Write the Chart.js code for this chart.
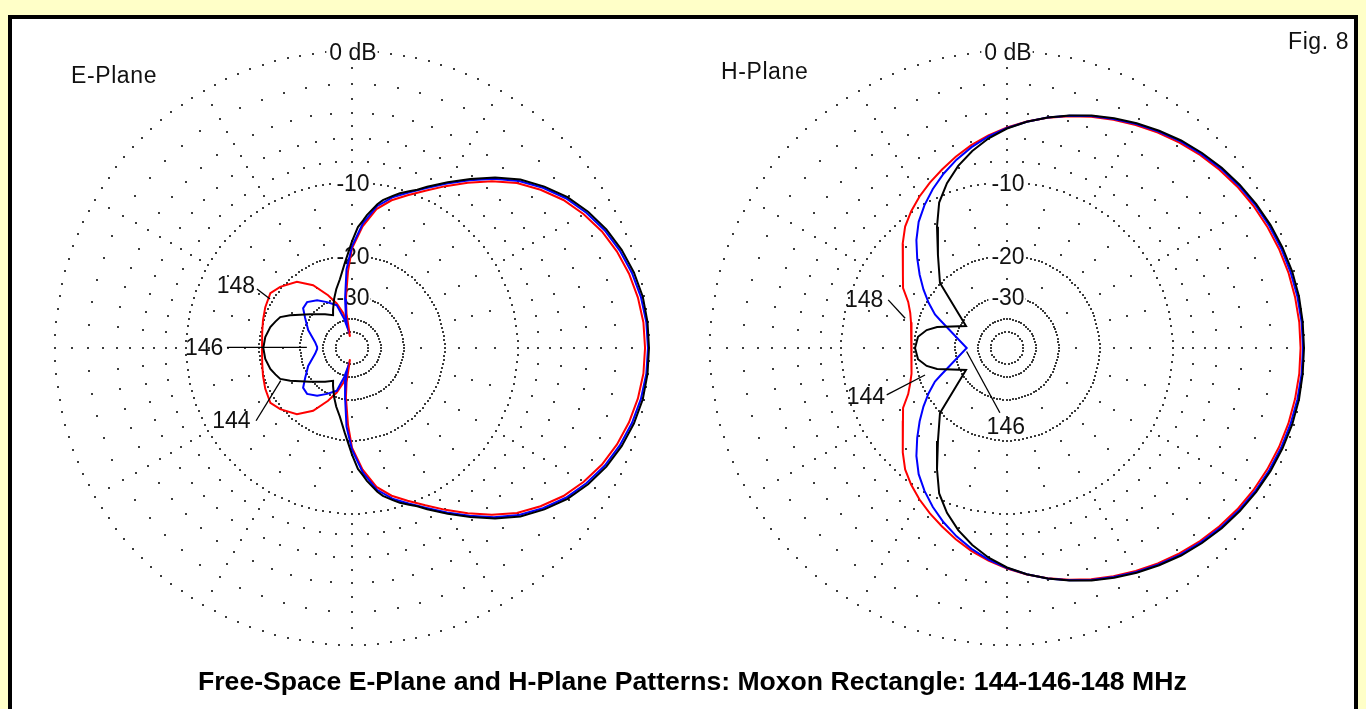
<!DOCTYPE html>
<html>
<head>
<meta charset="utf-8">
<title>Moxon Rectangle patterns</title>
<script src="https://cdn.jsdelivr.net/npm/chart.js@4.4.1/dist/chart.umd.min.js"></script>
<style>
  html, body { margin: 0; padding: 0; width: 1366px; height: 709px; overflow: hidden; background: #FFFFC8; }
  body { font-family: "Liberation Sans", Arial, sans-serif; }
  #panel { position: absolute; left: 8px; top: 15px; width: 1350px; height: 720px; box-sizing: border-box;
           background: #fff; border: 4px solid #000; border-bottom: none; }
  .plot { position: absolute; top: 28px; width: 640px; height: 640px; }
  .lbl { position: absolute; font-size: 23px; line-height: 23px; color: #111; white-space: nowrap; letter-spacing: 0.6px; }
  #title { position: absolute; left: 198px; top: 668px; font-size: 26.6px; line-height: 27px; font-weight: bold; color: #000; white-space: nowrap; }
</style>
</head>
<body>
<div id="panel"></div>
<div class="plot" style="left:32px"><canvas id="ePlane"></canvas></div>
<div class="plot" style="left:687px"><canvas id="hPlane"></canvas></div>
<div class="lbl" style="left:71px; top:64px">E-Plane</div>
<div class="lbl" style="left:721px; top:60px">H-Plane</div>
<div class="lbl" style="left:1288px; top:30px">Fig. 8</div>
<div id="title">Free-Space E-Plane and H-Plane Patterns: Moxon Rectangle: 144-146-148 MHz</div>

<script>
// ---- ring levels and their tick labels (dB, ARRL log-periodic scale) ----
const RING_DB     = [0, -10, -20, -30, -40, -50];
const RING_LABELS = ['0 dB', '-10', '-20', '-30', '', ''];

// ---- frequencies (MHz) ----
const FREQS = ['144', '146', '148'];

// ---- E-plane patterns, upper half: azimuth in degrees (0 = forward) and relative gain in dB ----
const E_ANG_144 = [0, 5, 10, 15, 20, 25, 30, 35, 40, 45, 50, 55, 60, 65, 67.6, 70, 72.8, 75, 78.2, 80, 83.6, 85, 87.2, 90, 95,
                   100, 105, 110, 116.6, 120, 128.5, 141, 152, 156.7, 161, 165.6, 172.8, 180];
const E_DB_144  = [0, -0.02, -0.10, -0.30, -0.59, -0.97, -1.47, -2.08, -2.88, -3.79, -4.95, -6.25, -7.54, -8.80, -9.45, -9.89, -10.40, -10.89, -11.60, -12.19, -13.70, -14.44, -15.40, -17.58, -21.53,
                   -24.86, -27.22, -29.80, -33.43, -35.35, -33.07, -29.32, -24.81, -22.92, -22.29, -21.61, -20.99, -20.74];

const E_ANG_146 = [0, 5, 10, 15, 20, 25, 30, 35, 40, 45, 50, 55, 60, 65, 70, 75, 80, 85, 90,
                   94, 98, 101, 103, 105, 109.6, 118.5, 126.1, 134.4, 140.8, 147.4, 157.8, 164.6, 171, 178.4, 180];
const E_DB_146  = [-0.06, -0.09, -0.21, -0.42, -0.71, -1.09, -1.60, -2.21, -3.01, -3.93, -5.09, -6.38, -7.68, -8.94, -10.04, -11.05, -12.42, -14.84, -18.40,
                   -22.79, -30.64, -38.30, -44.73, -39.40, -32.22, -29.83, -27.68, -26.29, -26.59, -28.75, -31.52, -33.84, -35.57, -36.76, -36.76];

const E_ANG_148 = [0, 5, 10, 15, 20, 25, 30, 35, 40, 45, 50, 55, 60, 65, 70, 75, 80, 85, 90,
                   93, 97, 99, 100, 102, 104, 108.9, 114.4, 121.8, 129.8, 139.6, 146.1, 154.8, 162.6, 170, 180];
const E_DB_148  = [-0.23, -0.26, -0.39, -0.60, -0.89, -1.27, -1.79, -2.41, -3.22, -4.15, -5.33, -6.63, -7.95, -9.23, -10.35, -11.39, -12.78, -15.26, -18.74,
                   -23.23, -30.64, -36.76, -55.86, -42.53, -36.27, -31.59, -28.03, -23.89, -21.25, -19.69, -18.97, -19.41, -19.88, -20.27, -20.49];

// ---- H-plane patterns, upper half ----
const H_ANG_144 = [0, 5, 10, 15, 20, 25, 30, 35, 40, 45, 50, 55, 60, 65, 70, 75, 80, 85, 90, 95, 100, 105, 110, 115, 120,
                   126.6, 135.9, 151.8, 163.3, 167.4, 172.8, 180];
const H_DB_144  = [0, -0.01, -0.03, -0.10, -0.22, -0.36, -0.54, -0.75, -0.99, -1.27, -1.58, -1.94, -2.32, -2.72, -3.14, -3.60, -4.09, -4.61, -5.19, -5.91, -6.78, -7.80, -9.03, -10.56, -12.91,
                   -16.16, -19.87, -31.82, -24.09, -22.03, -20.55, -20.12];

const H_ANG_146 = [0, 5, 10, 15, 20, 25, 30, 35, 40, 45, 50, 55, 60, 65, 70, 75, 80, 85, 90, 95, 100, 105, 110, 115, 120,
                   125, 130, 135, 140, 145, 150, 155, 157.3, 180];
const H_DB_146  = [-0.06, -0.07, -0.12, -0.20, -0.31, -0.45, -0.62, -0.83, -1.07, -1.35, -1.65, -2.00, -2.37, -2.77, -3.18, -3.62, -4.09, -4.60, -5.15, -5.76, -6.45, -7.22, -8.08, -9.03, -10.09,
                   -11.27, -12.79, -14.58, -16.43, -18.34, -20.40, -22.62, -24.18, -34.28];

const H_ANG_148 = [0, 5, 10, 15, 20, 25, 30, 35, 40, 45, 50, 55, 60, 65, 70, 75, 80, 85, 90, 95, 100, 105, 110, 115, 120,
                   125, 130, 135, 140, 145, 150, 155, 160, 165, 170, 175, 180];
const H_DB_148  = [-0.20, -0.21, -0.26, -0.33, -0.44, -0.58, -0.74, -0.94, -1.18, -1.45, -1.75, -2.09, -2.45, -2.83, -3.23, -3.66, -4.11, -4.59, -5.11, -5.67, -6.28, -6.96, -7.67, -8.36, -9.08,
                   -9.88, -10.78, -12.01, -13.41, -14.58, -15.55, -17.20, -18.18, -18.79, -19.21, -19.44, -19.51];

// ---- drawing setup ----
const COLORS = { '144': '#000000', '146': '#0000FF', '148': '#FF0000' };
const R_PX = 297;             // outer (0 dB) ring radius in pixels
const HALF = 320;             // half of the square canvas
const LIM = HALF / R_PX;      // axis limit in units of the outer radius

// ARRL log-periodic radius: each 2 dB shrinks the radius by a factor 0.89
const arrl = db => Math.pow(0.89, -db / 2);

// the patterns are symmetric about the boresight, so the lower half mirrors the upper one
function polarToXY(angles, dbs) {
  const full = angles.map((a, i) => [a, dbs[i]]);
  for (let i = angles.length - 2; i >= 0; i--) full.push([360 - angles[i], dbs[i]]);
  return full.map(([a, db]) => {
    const r = arrl(db), t = a * Math.PI / 180;
    return { x: r * Math.cos(t), y: r * Math.sin(t) };
  });
}

// dotted polar grid: rings (angular dot step per ring), and a lattice of dots along the spokes
const GRID = {
  ringStep: [2.5, 2.5, 2.5, 3.5, 6, 12],
  bands: [
    { every: 5,  db: [-2, -4, -6, -8] },
    { every: 30, db: [-1, -3, -5, -7, -9] },
    { every: 15, db: [-12.5, -15, -17.5] },
    { every: 30, db: [-25] }
  ]
};

const polarGrid = {
  id: 'polarGrid',
  beforeDatasetsDraw(chart) {
    const { ctx, scales: { x, y } } = chart;
    const px = (r, deg) => {
      const t = deg * Math.PI / 180;
      return [x.getPixelForValue(r * Math.cos(t)), y.getPixelForValue(r * Math.sin(t))];
    };
    ctx.save();
    ctx.fillStyle = '#3c3c3c';
    const dot = (r, deg) => { const [a, b] = px(r, deg); ctx.fillRect(Math.round(a) - 1, Math.round(b) - 1, 2, 2); };
    RING_DB.forEach((db, i) => { for (let a = 0; a < 360; a += GRID.ringStep[i]) dot(arrl(db), a); });
    GRID.bands.forEach(b => {
      for (let a = 0; a < 360; a += b.every) b.db.forEach(db => dot(arrl(db), a));
    });
    // ring tick labels on the vertical axis, with a white backdrop
    ctx.font = '23px "Liberation Sans", Arial, sans-serif';
    ctx.textAlign = 'center';
    ctx.textBaseline = 'alphabetic';
    RING_DB.forEach((db, i) => {
      const txt = RING_LABELS[i];
      if (!txt) return;
      const [cx, cy] = px(arrl(db), 90);
      const w = ctx.measureText(txt).width;
      ctx.fillStyle = '#fff';
      ctx.fillRect(cx - w / 2 - 2, cy - 11, w + 4, 22);
      ctx.fillStyle = '#111';
      ctx.fillText(txt, cx + 1, cy + 9);
    });
    ctx.restore();
  },
  afterDatasetsDraw(chart) {
    const notes = chart.options.plugins.polarGrid.notes || [];
    const { ctx, scales: { x, y } } = chart;
    ctx.save();
    ctx.strokeStyle = '#000';
    ctx.lineWidth = 1.3;
    ctx.fillStyle = '#111';
    ctx.font = '23px "Liberation Sans", Arial, sans-serif';
    ctx.textAlign = 'center';
    ctx.textBaseline = 'alphabetic';
    notes.forEach(n => {
      ctx.beginPath();
      ctx.moveTo(x.getPixelForValue(n.from[0]), y.getPixelForValue(n.from[1]));
      ctx.lineTo(x.getPixelForValue(n.to[0]), y.getPixelForValue(n.to[1]));
      ctx.stroke();
      ctx.fillText(n.text, x.getPixelForValue(n.at[0]), y.getPixelForValue(n.at[1]) + 8.5);
    });
    ctx.restore();
  }
};

function buildChart(id, series, notes) {
  const datasets = series.map(s => ({
    label: s.freq + ' MHz',
    data: polarToXY(s.ang, s.db),
    showLine: true,
    borderColor: COLORS[s.freq],
    borderWidth: 2,
    pointRadius: 0,
    tension: 0,
    fill: false,
    clip: false
  }));
  return new Chart(document.getElementById(id), {
    type: 'scatter',
    data: { datasets },
    options: {
      responsive: true,
      maintainAspectRatio: false,
      animation: false,
      events: [],
      layout: { padding: 0 },
      scales: {
        x: { type: 'linear', min: -LIM, max: LIM, display: false },
        y: { type: 'linear', min: -LIM, max: LIM, display: false }
      },
      plugins: { legend: { display: false }, tooltip: { enabled: false }, polarGrid: { notes } }
    },
    plugins: [polarGrid]
  });
}

// black (144) on top, then blue (146), red (148) underneath
buildChart('ePlane', [
  { freq: '144', ang: E_ANG_144, db: E_DB_144 },
  { freq: '146', ang: E_ANG_146, db: E_DB_146 },
  { freq: '148', ang: E_ANG_148, db: E_DB_148 }
], [
  { text: FREQS[2], at: [-0.391, 0.213], from: [-0.320, 0.199], to: [-0.276, 0.165] },
  { text: FREQS[1], at: [-0.498, 0.005], from: [-0.421, 0.002], to: [-0.152, 0.002] },
  { text: FREQS[0], at: [-0.406, -0.242], from: [-0.323, -0.245], to: [-0.240, -0.110] }
]);

buildChart('hPlane', [
  { freq: '144', ang: H_ANG_144, db: H_DB_144 },
  { freq: '146', ang: H_ANG_146, db: H_DB_146 },
  { freq: '148', ang: H_ANG_148, db: H_DB_148 }
], [
  { text: FREQS[2], at: [-0.481, 0.167], from: [-0.400, 0.162], to: [-0.343, 0.100] },
  { text: FREQS[0], at: [-0.475, -0.161], from: [-0.405, -0.158], to: [-0.276, -0.091] },
  { text: FREQS[1], at: [-0.004, -0.262], from: [-0.024, -0.218], to: [-0.136, -0.012] }
]);
</script>
</body>
</html>
